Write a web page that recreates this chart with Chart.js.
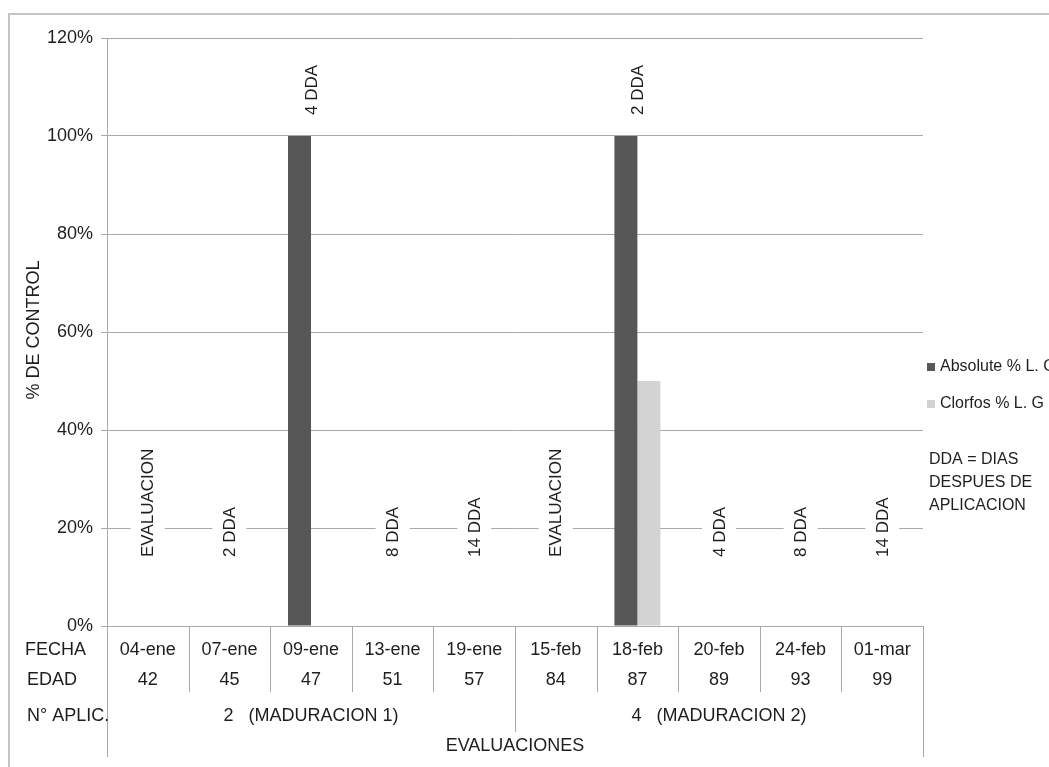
<!DOCTYPE html>
<html>
<head>
<meta charset="utf-8">
<title>% de control por evaluación</title>
<script src="https://cdn.jsdelivr.net/npm/chart.js@4.4.1/dist/chart.umd.min.js"></script>
<style>
  html, body { margin: 0; padding: 0; background: #ffffff; }
  #wrap { width: 1049px; height: 767px; }
</style>
</head>
<body>
<div id="wrap"><canvas id="chart" width="1049" height="767"></canvas></div>
<script>
// Evaluation dates, crop age and application group
const fechas = ['04-ene', '07-ene', '09-ene', '13-ene', '19-ene', '15-feb', '18-feb', '20-feb', '24-feb', '01-mar'];
const edades = [42, 45, 47, 51, 57, 84, 87, 89, 93, 99];
const aplicGrupos = ['2   (MADURACION 1)', '4   (MADURACION 2)'];
const aplicTamanos = [5, 5];

// % control per product
const absolute = [0, 0, 100, 0, 0, 0, 100, 0, 0, 0];
const clorfos = [0, 0, 0, 0, 0, 0, 50, 0, 0, 0];

// Days-after-application note for each evaluation
const notas = ['EVALUACION', '2 DDA', '4 DDA', '8 DDA', '14 DDA', 'EVALUACION', '2 DDA', '4 DDA', '8 DDA', '14 DDA'];
const nivelNota = 20;

const yTicks = [0, 20, 40, 60, 80, 100, 120];
const leyendaNota = ['DDA = DIAS', 'DESPUES DE', 'APLICACION'];

const FONT = '"Liberation Sans", Arial, sans-serif';
const TEXT = '#1e1e1e';
const LINE = '#a9a9a9';

const tablePlugin = {
  id: 'tablePlugin',
  beforeDraw(chart) {
    const ctx = chart.ctx;
    ctx.save();
    ctx.fillStyle = '#ffffff';
    ctx.fillRect(0, 0, chart.width, chart.height);
    ctx.strokeStyle = '#c4c4c4';
    ctx.lineWidth = 2;
    ctx.strokeRect(9, 14, chart.width + 20, chart.height + 20);
    ctx.restore();
  },
  afterDatasetsDraw(chart) {
    const ctx = chart.ctx;
    const x = chart.scales.x;
    const y = chart.scales.y;
    const area = chart.chartArea;
    const n = fechas.length;
    const edge = i => (i <= 0 ? area.left : i >= n ? area.right : (x.getPixelForValue(i - 1) + x.getPixelForValue(i)) / 2);

    ctx.save();
    // rotated notes: above the bars, or straddling the 20% line
    ctx.font = '17px ' + FONT;
    ctx.textBaseline = 'middle';
    ctx.textAlign = 'left';
    notas.forEach((t, i) => {
      const top = Math.max(absolute[i] || 0, clorfos[i] || 0);
      const px = x.getPixelForValue(i);
      let start;
      if (top > 0) {
        start = y.getPixelForValue(top) - 21;
      } else {
        start = y.getPixelForValue(nivelNota) + 29;
      }
      const w = ctx.measureText(t).width;
      ctx.save();
      ctx.translate(px, start);
      ctx.rotate(-Math.PI / 2);
      ctx.fillStyle = '#ffffff';
      ctx.fillRect(-3, -17, w + 6, 34);
      ctx.fillStyle = TEXT;
      ctx.fillText(t, 0, 1);
      ctx.restore();
    });

    // data table lines
    ctx.strokeStyle = LINE;
    ctx.lineWidth = 1;
    const b = area.bottom;
    const seg = (xx, y0, y1) => {
      ctx.beginPath();
      ctx.moveTo(Math.round(xx) + 0.5, y0);
      ctx.lineTo(Math.round(xx) + 0.5, y1);
      ctx.stroke();
    };
    let acc = 0;
    const groupEdges = aplicTamanos.map(s => (acc += s));
    for (let i = 0; i <= n; i++) {
      let end = b + 66;
      if (i === 0 || i === n) end = b + 131;
      else if (groupEdges.includes(i)) end = b + 106;
      seg(edge(i), b, end);
    }

    // table text
    ctx.fillStyle = TEXT;
    ctx.font = '18px ' + FONT;
    ctx.textAlign = 'center';
    ctx.textBaseline = 'middle';
    fechas.forEach((f, i) => ctx.fillText(f, x.getPixelForValue(i), b + 24));
    edades.forEach((e, i) => ctx.fillText(String(e), x.getPixelForValue(i), b + 54));
    let s = 0;
    aplicGrupos.forEach((g, k) => {
      const cx = (edge(s) + edge(s + aplicTamanos[k])) / 2;
      ctx.fillText(g, cx, b + 90);
      s += aplicTamanos[k];
    });
    ctx.fillText('EVALUACIONES', (area.left + area.right) / 2, b + 120);

    ctx.textAlign = 'left';
    ctx.fillText('FECHA', 25, b + 24);
    ctx.fillText('EDAD', 27, b + 54);
    ctx.fillText('N\u00b0 APLIC.', 27, b + 90);

    // y axis title
    ctx.save();
    ctx.translate(34, 330);
    ctx.rotate(-Math.PI / 2);
    ctx.textAlign = 'center';
    ctx.font = '18px ' + FONT;
    ctx.fillText('% DE CONTROL', 0, 0);
    ctx.restore();

    // legend
    ctx.font = '16px ' + FONT;
    ctx.textAlign = 'left';
    chart.data.datasets.forEach((ds, k) => {
      const ly = 367 + k * 37;
      ctx.fillStyle = ds.backgroundColor;
      ctx.fillRect(927, ly - 4, 8, 8);
      ctx.fillStyle = TEXT;
      ctx.fillText(ds.label, 940, ly);
    });
    leyendaNota.forEach((t, k) => ctx.fillText(t, 929, 460 + k * 23));
    ctx.restore();
  }
};

new Chart(document.getElementById('chart'), {
  type: 'bar',
  data: {
    labels: fechas,
    datasets: [
      { label: 'Absolute % L. G', data: absolute, backgroundColor: '#575757' },
      { label: 'Clorfos % L. G', data: clorfos, backgroundColor: '#d3d3d3' }
    ]
  },
  options: {
    responsive: false,
    animation: false,
    events: [],
    layout: { padding: { left: 0, right: 126, top: 38, bottom: 0 } },
    datasets: { bar: { categoryPercentage: 0.564, barPercentage: 1.0 } },
    plugins: { legend: { display: false }, tooltip: { enabled: false } },
    scales: {
      x: {
        ticks: { display: false },
        grid: { display: false, drawTicks: false },
        border: { display: true, color: LINE },
        afterFit: s => { s.height = 141; }
      },
      y: {
        min: 0,
        max: 120,
        afterBuildTicks: s => { s.ticks = yTicks.map(v => ({ value: v })); },
        ticks: {
          callback: v => v + '%',
          font: { family: FONT, size: 18 },
          color: TEXT,
          padding: 8
        },
        grid: { color: LINE, tickLength: 6, lineWidth: 1 },
        border: { display: true, color: LINE },
        afterFit: s => { s.width = 107; }
      }
    }
  },
  plugins: [tablePlugin]
});
</script>
</body>
</html>
